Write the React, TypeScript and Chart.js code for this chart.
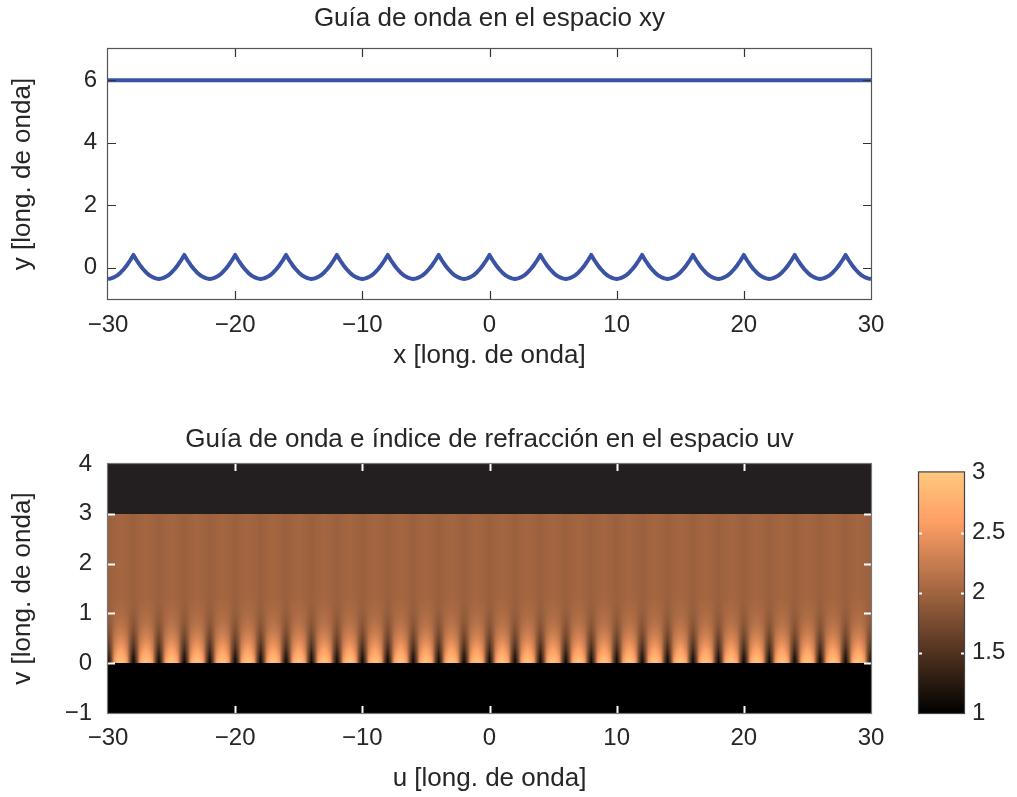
import React, { useEffect, useRef } from "react";
import { Chart, registerables } from "chart.js";
Chart.register(...registerables);

// ---------------- data ----------------
const titleTop = "Guía de onda en el espacio xy";
const titleBottom = "Guía de onda e índice de refracción en el espacio uv";
const xLabelTop = "x [long. de onda]";
const yLabelTop = "y [long. de onda]";
const xLabelBottom = "u [long. de onda]";
const yLabelBottom = "v [long. de onda]";

const xRange = [-30, 30];
const yRangeTop = [-1, 7];
const xTicks = [-30, -20, -10, 0, 10, 20, 30];
const yTicksTop = [0, 2, 4, 6];

// upper wall of the guide (flat)
const upperWallX = [-30, 30];
const upperWallY = [6, 6];

// lower wall: cusped periodic wall, peaks every 4 wavelengths
const lowerWallPeaksX = [-28, -24, -20, -16, -12, -8, -4, 0, 4, 8, 12, 16, 20, 24, 28];
const lowerWallStep = 0.25;
// y of the wall read at distance 0, 0.25, ... 2 from a peak
const lowerWallHalfProfile = [0.41, 0.24, 0.09, -0.04, -0.15, -0.24, -0.3, -0.34, -0.36];

// heat map (index of refraction in uv space)
const uRange = [-30, 30];
const vRange = [-1, 4];
const vTicks = [-1, 0, 1, 2, 3, 4];
const coreV = [0, 3];
const nBelowCore = 1.0;
const profileOffsetsU = [0, 0.25, 0.5, 0.75, 1.0, 1.25, 1.5, 1.75]; // one period of 2
const profileRowsV = [0, 0.1, 0.2, 0.3, 0.4, 0.5, 0.6, 0.7, 0.8, 0.9, 1.0, 1.1, 1.2, 1.3];
const profileN = [
  [1.05, 1.6, 2.55, 2.88, 2.97, 2.88, 2.55, 1.6],
  [1.15, 1.68, 2.48, 2.78, 2.87, 2.78, 2.48, 1.68],
  [1.3, 1.74, 2.38, 2.62, 2.72, 2.62, 2.38, 1.74],
  [1.45, 1.79, 2.3, 2.5, 2.58, 2.5, 2.3, 1.79],
  [1.57, 1.83, 2.24, 2.4, 2.46, 2.4, 2.24, 1.83],
  [1.67, 1.87, 2.19, 2.31, 2.36, 2.31, 2.19, 1.87],
  [1.75, 1.9, 2.14, 2.24, 2.28, 2.24, 2.14, 1.9],
  [1.81, 1.93, 2.1, 2.18, 2.21, 2.18, 2.1, 1.93],
  [1.86, 1.95, 2.07, 2.13, 2.16, 2.13, 2.07, 1.95],
  [1.9, 1.96, 2.05, 2.1, 2.12, 2.1, 2.05, 1.96],
  [1.93, 1.97, 2.04, 2.07, 2.09, 2.07, 2.04, 1.97],
  [1.95, 1.98, 2.03, 2.05, 2.06, 2.05, 2.03, 1.98],
  [1.96, 1.98, 2.02, 2.04, 2.05, 2.04, 2.02, 1.98],
  [1.97, 1.985, 2.0, 2.015, 2.025, 2.015, 2.0, 1.985],
];
const cbRange = [1, 3];
const cbTicks = [1, 1.5, 2, 2.5, 3];

// ---------------- styles ----------------
const FONT = "'Liberation Sans', Arial, Helvetica, sans-serif";
const TEXT = "#262626";
const LINE_BLUE = "#3a53a4";
const ABOVE_CORE_COLOR = "#231f20";
const TICK_SIZE = 24;
const LABEL_SIZE = 26;
const TITLE_SIZE = 26;

function copper(n: number) {
  let t = (n - cbRange[0]) / (cbRange[1] - cbRange[0]);
  t = Math.max(0, Math.min(1, t));
  const r = Math.min(1, 1.25 * t) * 255;
  const g = 0.7812 * t * 255;
  const b = 0.4975 * t * 255;
  return `rgb(${Math.round(r)},${Math.round(g)},${Math.round(b)})`;
}

function fmt(v: number) {
  return v < 0 ? "\u2212" + String(Math.abs(v)) : String(v);
}

function setTicks(arr: number[]) {
  return (scale: any) => {
    scale.ticks = arr.map((v) => ({ value: v }));
  };
}

// value of the index at (u, v) from the read grid (linear between samples)
function indexAt(u: number, v: number) {
  if (v < coreV[0]) return nBelowCore;
  const cellU = profileOffsetsU[1] - profileOffsetsU[0];
  const nCols = profileOffsetsU.length;
  let c = ((u - uRange[0]) / cellU) % nCols;
  if (c < 0) c += nCols;
  const c0 = Math.floor(c);
  const c1 = (c0 + 1) % nCols;
  const fc = c - c0;
  let r0 = profileRowsV.length - 1;
  let fr = 0;
  for (let r = 0; r < profileRowsV.length - 1; r++) {
    if (v < profileRowsV[r + 1]) {
      r0 = r;
      fr = (v - profileRowsV[r]) / (profileRowsV[r + 1] - profileRowsV[r]);
      break;
    }
  }
  const r1 = Math.min(profileRowsV.length - 1, r0 + 1);
  const a = profileN[r0][c0] * (1 - fc) + profileN[r0][c1] * fc;
  const b = profileN[r1][c0] * (1 - fc) + profileN[r1][c1] * fc;
  return a * (1 - fr) + b * fr;
}

const frameTicksPlugin = {
  id: "frameTicks",
  afterDatasetsDraw(chart: any, _args: any, opts: any) {
    const { ctx, chartArea: a } = chart;
    const x = chart.scales.x;
    const y = chart.scales.y;
    const len = opts.len ?? 8;
    ctx.save();
    ctx.strokeStyle = opts.tickColor;
    ctx.lineWidth = opts.tickWidth ?? 1.2;
    ctx.beginPath();
    if (x && x.options.display !== false) {
      for (const t of x.ticks) {
        const px = Math.round(x.getPixelForValue(t.value)) + 0.5;
        if (px <= a.left + 1 || px >= a.right - 1) continue;
        ctx.moveTo(px, a.bottom);
        ctx.lineTo(px, a.bottom - len);
        ctx.moveTo(px, a.top);
        ctx.lineTo(px, a.top + len);
      }
    }
    if (y) {
      for (const t of y.ticks) {
        const py = Math.round(y.getPixelForValue(t.value)) + 0.5;
        if (py <= a.top + 1 || py >= a.bottom - 1) continue;
        ctx.moveTo(a.left, py);
        ctx.lineTo(a.left + len, py);
        ctx.moveTo(a.right, py);
        ctx.lineTo(a.right - len, py);
      }
    }
    ctx.stroke();
    ctx.strokeStyle = opts.borderColor;
    ctx.lineWidth = 1.2;
    ctx.strokeRect(a.left - 0.5, a.top - 0.5, a.right - a.left + 1, a.bottom - a.top + 1);
    ctx.restore();
  },
};

const heatmapPlugin = {
  id: "heatmap",
  beforeDatasetsDraw(chart: any) {
    const { ctx, chartArea: a } = chart;
    const x = chart.scales.x;
    const y = chart.scales.y;
    ctx.save();
    ctx.beginPath();
    ctx.rect(a.left, a.top, a.right - a.left, a.bottom - a.top);
    ctx.clip();
    const fillBox = (u0: number, u1: number, v0: number, v1: number, color: string) => {
      const x0 = Math.floor(x.getPixelForValue(u0));
      const x1 = Math.ceil(x.getPixelForValue(u1));
      const y0 = Math.round(y.getPixelForValue(v1));
      const y1 = Math.round(y.getPixelForValue(v0));
      ctx.fillStyle = color;
      ctx.fillRect(x0, y0, x1 - x0, y1 - y0);
    };
    fillBox(uRange[0], uRange[1], coreV[1], vRange[1], ABOVE_CORE_COLOR);
    fillBox(uRange[0], uRange[1], vRange[0], coreV[0], copper(nBelowCore));
    const lastV = profileRowsV[profileRowsV.length - 1];
    const pyTop = Math.round(y.getPixelForValue(coreV[1]));
    const pyLast = Math.round(y.getPixelForValue(lastV));
    const pyBase = Math.round(y.getPixelForValue(coreV[0]));
    for (let px = Math.floor(a.left); px < Math.ceil(a.right); px++) {
      const u = x.getValueForPixel(px + 0.5);
      // upper uniform part of the core
      ctx.fillStyle = copper(indexAt(u, lastV));
      ctx.fillRect(px, pyTop, 1, pyLast - pyTop);
      for (let py = pyLast; py < pyBase; py++) {
        const v = y.getValueForPixel(py + 0.5);
        ctx.fillStyle = copper(indexAt(u, v));
        ctx.fillRect(px, py, 1, 1);
      }
    }
    ctx.restore();
  },
};

const colorbarPlugin = {
  id: "colorbar",
  beforeDatasetsDraw(chart: any) {
    const { ctx, chartArea: a } = chart;
    const y = chart.scales.y;
    const steps = 128;
    const dv = (cbRange[1] - cbRange[0]) / steps;
    for (let i = 0; i < steps; i++) {
      const v0 = cbRange[0] + i * dv;
      const y0 = Math.floor(y.getPixelForValue(v0 + dv));
      const y1 = Math.ceil(y.getPixelForValue(v0));
      ctx.fillStyle = copper(v0 + dv / 2);
      ctx.fillRect(a.left, y0, a.right - a.left, y1 - y0);
    }
  },
};

function textScale(extra: any) {
  return {
    grid: { display: false, drawTicks: false },
    border: { display: false },
    ...extra,
  };
}

function App() {
  const topRef = useRef<HTMLCanvasElement>(null);
  const botRef = useRef<HTMLCanvasElement>(null);
  const cbRef = useRef<HTMLCanvasElement>(null);

  useEffect(() => {
    const curve: { x: number; y: number }[] = [];
    const n = Math.round((xRange[1] - xRange[0]) / lowerWallStep);
    for (let k = 0; k <= n; k++) {
      const xv = xRange[0] + k * lowerWallStep;
      let d = Infinity;
      for (const p of lowerWallPeaksX) d = Math.min(d, Math.abs(xv - p));
      const idx = Math.min(lowerWallHalfProfile.length - 1, Math.round(d / lowerWallStep));
      curve.push({ x: xv, y: lowerWallHalfProfile[idx] });
    }

    const top = new Chart(topRef.current!, {
      type: "line",
      data: {
        datasets: [
          {
            data: upperWallX.map((xv, i) => ({ x: xv, y: upperWallY[i] })),
            borderColor: LINE_BLUE,
            borderWidth: 4,
            pointRadius: 0,
            tension: 0,
          },
          {
            data: curve,
            borderColor: LINE_BLUE,
            borderWidth: 4,
            pointRadius: 0,
            tension: 0,
            borderJoinStyle: "round",
          },
        ],
      },
      options: {
        responsive: false,
        animation: false,
        devicePixelRatio: 1,
        layout: { padding: { left: 0, right: 146, top: 0, bottom: 0 } },
        plugins: {
          legend: { display: false },
          tooltip: { enabled: false },
          title: {
            display: true,
            text: titleTop,
            fullSize: false,
            color: TEXT,
            font: { family: FONT, size: TITLE_SIZE, weight: "normal" },
            padding: { top: 3, bottom: 14.8 },
          },
          frameTicks: { tickColor: "#333", borderColor: "#555", len: 8 },
        } as any,
        scales: {
          x: textScale({
            type: "linear",
            min: xRange[0],
            max: xRange[1],
            afterBuildTicks: setTicks(xTicks),
            afterFit: (s: any) => { s.height = 91; },
            ticks: {
              color: TEXT,
              padding: 12,
              maxRotation: 0,
              font: { family: FONT, size: TICK_SIZE },
              callback: (v: any) => fmt(Number(v)),
            },
            title: {
              display: true,
              text: xLabelTop,
              color: TEXT,
              font: { family: FONT, size: LABEL_SIZE },
              padding: { top: 0, bottom: 19 },
            },
          }),
          y: textScale({
            type: "linear",
            min: yRangeTop[0],
            max: yRangeTop[1],
            afterBuildTicks: setTicks(yTicksTop),
            afterFit: (s: any) => { s.width = 108; },
            ticks: {
              color: TEXT,
              padding: 11,
              font: { family: FONT, size: TICK_SIZE },
              callback: (v: any) => fmt(Number(v)),
            },
            title: {
              display: true,
              text: yLabelTop,
              color: TEXT,
              font: { family: FONT, size: LABEL_SIZE },
              padding: { top: 7, bottom: 0 },
            },
          }),
        },
      },
      plugins: [frameTicksPlugin],
    } as any);

    const bot = new Chart(botRef.current!, {
      type: "line",
      data: { datasets: [{ data: [], pointRadius: 0 }] },
      options: {
        responsive: false,
        animation: false,
        devicePixelRatio: 1,
        layout: { padding: { left: 0, right: 146, top: 0, bottom: 0 } },
        plugins: {
          legend: { display: false },
          tooltip: { enabled: false },
          title: {
            display: true,
            text: titleBottom,
            fullSize: false,
            color: TEXT,
            font: { family: FONT, size: TITLE_SIZE, weight: "normal" },
            padding: { top: 34.4, bottom: 8.4 },
          },
          frameTicks: { tickColor: "#ffffff", borderColor: "#777", len: 7, tickWidth: 2 },
        } as any,
        scales: {
          x: textScale({
            type: "linear",
            min: uRange[0],
            max: uRange[1],
            afterBuildTicks: setTicks(xTicks),
            afterFit: (s: any) => { s.height = 84; },
            ticks: {
              color: TEXT,
              padding: 11,
              maxRotation: 0,
              font: { family: FONT, size: TICK_SIZE },
              callback: (v: any) => fmt(Number(v)),
            },
            title: {
              display: true,
              text: xLabelBottom,
              color: TEXT,
              font: { family: FONT, size: LABEL_SIZE },
              padding: { top: 0, bottom: 3 },
            },
          }),
          y: textScale({
            type: "linear",
            min: vRange[0],
            max: vRange[1],
            afterBuildTicks: setTicks(vTicks),
            afterFit: (s: any) => { s.width = 108; },
            ticks: {
              color: TEXT,
              padding: 16,
              font: { family: FONT, size: TICK_SIZE },
              callback: (v: any) => fmt(Number(v)),
            },
            title: {
              display: true,
              text: yLabelBottom,
              color: TEXT,
              font: { family: FONT, size: LABEL_SIZE },
              padding: { top: 7, bottom: 0 },
            },
          }),
        },
      },
      plugins: [heatmapPlugin, frameTicksPlugin],
    } as any);

    const cb = new Chart(cbRef.current!, {
      type: "line",
      data: { datasets: [{ data: [], pointRadius: 0 }] },
      options: {
        responsive: false,
        animation: false,
        devicePixelRatio: 1,
        layout: { padding: { left: 19, right: 0, top: 16, bottom: 27 } },
        plugins: {
          legend: { display: false },
          tooltip: { enabled: false },
          frameTicks: { tickColor: "#ffffff", borderColor: "#444", len: 3, tickWidth: 2 },
        } as any,
        scales: {
          x: { type: "linear", min: 0, max: 1, display: false },
          y: textScale({
            type: "linear",
            position: "right",
            min: cbRange[0],
            max: cbRange[1],
            afterBuildTicks: setTicks(cbTicks),
            afterFit: (s: any) => { s.width = 53; },
            ticks: {
              color: TEXT,
              padding: 8,
              font: { family: FONT, size: TICK_SIZE },
              callback: (v: any) => String(v),
            },
          }),
        },
      },
      plugins: [colorbarPlugin, frameTicksPlugin],
    } as any);

    return () => {
      top.destroy();
      bot.destroy();
      cb.destroy();
    };
  }, []);

  return (
    <div style={{ position: "fixed", left: 0, top: 0, width: 1017, height: 797, background: "#fff" }}>
      <canvas ref={topRef} width={1017} height={390}
        style={{ position: "absolute", left: 0, top: 0, width: 1017, height: 390 }} />
      <canvas ref={botRef} width={1017} height={407}
        style={{ position: "absolute", left: 0, top: 390, width: 1017, height: 407 }} />
      <canvas ref={cbRef} width={117} height={290}
        style={{ position: "absolute", left: 900, top: 450, width: 117, height: 290 }} />
    </div>
  );
}

export default App;
